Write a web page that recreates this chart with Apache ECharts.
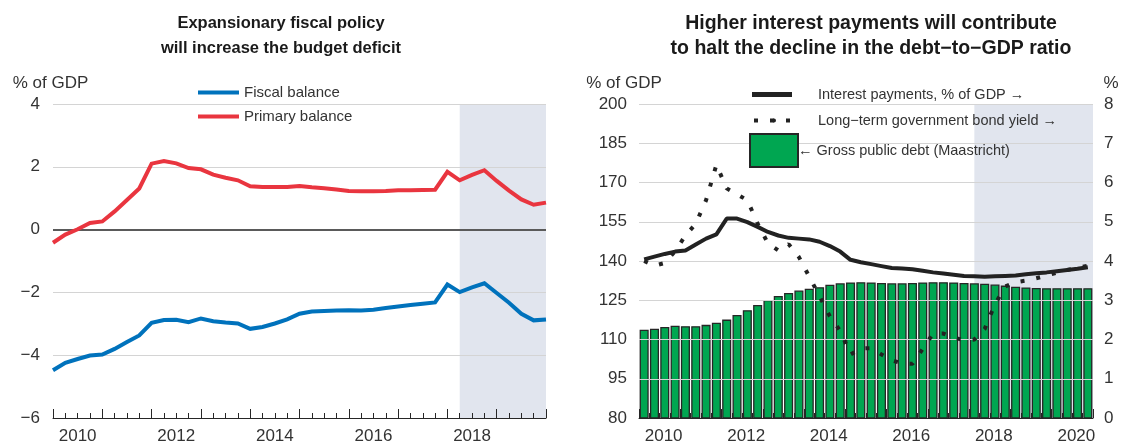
<!DOCTYPE html>
<html><head><meta charset="utf-8">
<script src="https://cdn.jsdelivr.net/npm/echarts@6/dist/echarts.min.js"></script>
<style>html,body{margin:0;padding:0;background:#fff}#c{width:1124px;height:445px}</style>
</head><body><div id="c"></div><script>
// ---------- DATA ----------
// Left panel: quarterly points 2010Q1 .. 2020Q1
const leftQuarters = [];
for (let y = 2010; y <= 2020; y++) for (let q = 1; q <= 4; q++) if (leftQuarters.length < 41) leftQuarters.push(y + 'Q' + q);
const leftYears = ['2010','2011','2012','2013','2014','2015','2016','2017','2018','2019'];
const fiscalBalance = [-4.48,-4.24,-4.12,-4.01,-3.98,-3.80,-3.58,-3.37,-2.97,-2.88,-2.87,-2.95,-2.83,-2.92,-2.96,-2.99,-3.16,-3.10,-2.99,-2.86,-2.68,-2.61,-2.59,-2.58,-2.57,-2.58,-2.55,-2.50,-2.45,-2.40,-2.36,-2.32,-1.75,-1.99,-1.84,-1.71,-2.02,-2.33,-2.68,-2.89,-2.86];
const primaryBalance = [-0.42,-0.16,0.01,0.21,0.26,0.58,0.94,1.31,2.10,2.18,2.11,1.96,1.92,1.75,1.65,1.57,1.38,1.36,1.36,1.36,1.39,1.35,1.32,1.28,1.23,1.22,1.22,1.23,1.25,1.25,1.26,1.27,1.84,1.57,1.74,1.89,1.55,1.24,0.96,0.79,0.86];
const leftForecastStart = '2018Q2';
const leftTicks = [-6, 4, 2];   // min, max, interval

// Right panel: quarterly 2010Q1 .. 2020Q4
const rightQuarters = [];
for (let y = 2010; y <= 2020; y++) for (let q = 1; q <= 4; q++) rightQuarters.push(y + 'Q' + q);
const rightYears = ['2010','2011','2012','2013','2014','2015','2016','2017','2018','2019','2020'];
const grossDebt = [113.7,114.1,114.8,115.3,115.1,115.1,115.6,116.4,117.6,119.4,121.2,123.2,125.1,126.6,127.8,128.7,129.4,130.0,130.9,131.5,131.8,131.9,131.8,131.6,131.5,131.5,131.6,131.8,131.9,131.9,131.8,131.6,131.5,131.3,131.0,130.6,130.2,129.9,129.7,129.6,129.6,129.6,129.6,129.6];
const interestPayments = [4.04,4.11,4.18,4.24,4.27,4.42,4.57,4.68,5.08,5.08,4.99,4.87,4.74,4.65,4.59,4.57,4.55,4.49,4.38,4.24,4.03,3.97,3.92,3.87,3.82,3.81,3.79,3.75,3.71,3.68,3.65,3.62,3.61,3.60,3.61,3.62,3.63,3.66,3.69,3.71,3.74,3.77,3.80,3.84];
const bondYield = [4.0,3.88,3.95,4.25,4.65,4.95,5.55,6.45,5.85,5.7,5.55,4.95,4.45,4.27,4.43,4.1,3.6,3.1,2.59,2.22,1.62,1.77,1.78,1.62,1.47,1.39,1.38,1.76,2.15,2.15,2.05,1.98,2.0,2.27,2.9,3.35,3.46,3.5,3.56,3.63,3.7,3.77,3.83,3.88];
const rightForecastStart = '2018Q1';
const debtTicks = [80, 200, 15];
const pctTicks = [0, 8, 1];

// ---------- STYLE ----------
const FONT = '"Liberation Sans", Arial, sans-serif';
const TXT = '#333';
const GRIDC = '#d4d4d4';
const BLUE = '#0072bc', RED = '#e9353f', GREEN = '#00a651', SHADE = '#e1e5ee', DARK = '#262626';
const minus = v => String(v).replace('-', '\u2212');

function tickValues(t, includeMin) {
  const out = [];
  for (let v = includeMin ? t[0] : t[0] + t[2]; v <= t[1] + 1e-9; v += t[2]) out.push(v);
  return out;
}

const chart = echarts.init(document.getElementById('c'), null, {renderer: 'canvas'});

function tickAxes(grid, cats, boundaryGap) {
  return [
    { type: 'category', gridIndex: grid, data: cats, boundaryGap: boundaryGap, position: 'bottom',
      axisLine: { show: true, onZero: false, lineStyle: { color: DARK, width: 1 } },
      axisTick: { show: true, inside: true, interval: 0, length: 5, lineStyle: { color: DARK } },
      axisLabel: { show: false }, splitLine: { show: false } },
    { type: 'category', gridIndex: grid, data: cats, boundaryGap: boundaryGap, position: 'bottom',
      axisLine: { show: false, onZero: false },
      axisTick: { show: true, inside: true, length: 9, interval: (i) => i % 4 === 0, lineStyle: { color: DARK } },
      axisLabel: { show: false }, splitLine: { show: false } }
  ];
}
function yearAxis(grid, years, pad) {
  return { type: 'category', gridIndex: grid, data: years, boundaryGap: true, position: 'bottom',
    axisLine: { show: false, onZero: false }, axisTick: { show: false },
    axisLabel: { interval: 1, margin: 10, fontSize: 17, color: TXT, fontFamily: FONT, padding: pad } };
}

const xAxes = [
  ...tickAxes(0, leftQuarters, false),            // 0,1
  yearAxis(0, leftYears, [0, 0, 0, 0]),           // 2
  ...tickAxes(1, rightQuarters, true),            // 3,4
  yearAxis(1, rightYears, [0, 0, 0, 8]),          // 5
  { type: 'value', gridIndex: 1, min: 0, max: rightQuarters.length, show: false } // 6 (shading)
];

const rStart = rightQuarters.indexOf(rightForecastStart) + 0.5;

const leftGridLines = tickValues(leftTicks, false).map(v => ({
  yAxis: v,
  lineStyle: v === 0 ? { color: '#5a5a5a', width: 2, type: 'solid' } : { color: GRIDC, width: 1, type: 'solid' }
}));
const rightGridLines = tickValues(debtTicks, false).map(v => ({ yAxis: v }));

const markLineBase = { silent: true, symbol: 'none', z: 3, label: { show: false }, emphasis: { disabled: true },
  animation: false, lineStyle: { color: GRIDC, width: 1, type: 'solid' } };

const option = {
  animation: false,
  textStyle: { fontFamily: FONT },
  title: [
    { text: 'Expansionary fiscal policy\nwill increase the budget deficit', left: 276, top: 6, textAlign: 'center',
      textStyle: { fontSize: 16.5, fontWeight: 'bold', color: '#1a1a1a', lineHeight: 25, fontFamily: FONT } },
    { text: 'Higher interest payments will contribute\nto halt the decline in the debt\u2212to\u2212GDP ratio', left: 866, top: 6, textAlign: 'center',
      textStyle: { fontSize: 19.5, fontWeight: 'bold', color: '#1a1a1a', lineHeight: 25, fontFamily: FONT } }
  ],
  legend: [
    { data: ['Fiscal balance', 'Primary balance'], orient: 'vertical', left: 198, top: 85, itemGap: 9, padding: 0,
      icon: 'rect', itemWidth: 41, itemHeight: 4,
      textStyle: { fontSize: 15, color: TXT, fontFamily: FONT } },
    { data: ['Interest payments, % of GDP \u2192'], left: 752, top: 87, padding: 0, icon: 'rect', itemWidth: 40, itemHeight: 5,
      textStyle: { fontSize: 14.5, color: TXT, fontFamily: FONT, padding: [0, 0, 0, 21] } },
    { data: ['Long\u2212term government bond yield \u2192'], left: 752, top: 113, padding: 0, itemWidth: 40, itemHeight: 5,
      lineStyle: { width: 4 },
      textStyle: { fontSize: 14.5, color: TXT, fontFamily: FONT, padding: [0, 0, 0, 19] } },
    { data: ['\u2190 Gross public debt (Maastricht)'], left: 749, top: 133, padding: 0, icon: 'rect', itemWidth: 48, itemHeight: 33,
      textStyle: { fontSize: 14.5, color: TXT, fontFamily: FONT, padding: [0, 0, 0, -5] } }
  ],
  grid: [
    { left: 53, top: 104, width: 493, height: 317 },
    { left: 639, top: 104, width: 454, height: 317 }
  ],
  xAxis: xAxes,
  yAxis: [
    { type: 'value', gridIndex: 0, min: leftTicks[0], max: leftTicks[1], interval: leftTicks[2],
      axisLine: { show: false }, axisTick: { show: false },
      splitLine: { lineStyle: { color: GRIDC, width: 1 } },
      axisLabel: { fontSize: 17, color: TXT, margin: 13, formatter: minus },
      name: '% of GDP', nameLocation: 'end', nameGap: 12,
      nameTextStyle: { fontSize: 17, color: TXT, align: 'center', padding: [0, 5, 0, 0] } },
    { type: 'value', gridIndex: 1, min: debtTicks[0], max: debtTicks[1], interval: debtTicks[2], position: 'left',
      axisLine: { show: false }, axisTick: { show: false },
      splitLine: { lineStyle: { color: GRIDC, width: 1 } },
      axisLabel: { fontSize: 17, color: TXT, margin: 12 },
      name: '% of GDP', nameLocation: 'end', nameGap: 12,
      nameTextStyle: { fontSize: 17, color: TXT, align: 'center', padding: [0, 30, 0, 0] } },
    { type: 'value', gridIndex: 1, min: pctTicks[0], max: pctTicks[1], interval: pctTicks[2], position: 'right',
      axisLine: { show: false }, axisTick: { show: false }, splitLine: { show: false },
      axisLabel: { fontSize: 17, color: TXT, margin: 11 },
      name: '%', nameLocation: 'end', nameGap: 12,
      nameTextStyle: { fontSize: 17, color: TXT, align: 'center', padding: [0, 0, 0, 36] } }
  ],
  series: [
    { name: 'shadeLeft', type: 'line', xAxisIndex: 0, yAxisIndex: 0, data: [], z: 0, silent: true,
      markArea: { silent: true, z: 0, itemStyle: { color: SHADE },
        data: [[{ xAxis: leftForecastStart }, { xAxis: leftQuarters[leftQuarters.length - 1] }]] } },
    { name: 'Fiscal balance', type: 'line', xAxisIndex: 0, yAxisIndex: 0, data: fiscalBalance, z: 6,
      symbol: 'none', itemStyle: { color: BLUE }, lineStyle: { color: BLUE, width: 4, join: 'miter' },
      markLine: Object.assign({}, markLineBase, { data: leftGridLines }) },
    { name: 'Primary balance', type: 'line', xAxisIndex: 0, yAxisIndex: 0, data: primaryBalance, z: 6,
      symbol: 'none', itemStyle: { color: RED }, lineStyle: { color: RED, width: 4, join: 'miter' } },

    { name: 'shadeRight', type: 'line', xAxisIndex: 6, yAxisIndex: 2, data: [], z: 0, silent: true,
      markArea: { silent: true, z: 0, itemStyle: { color: SHADE },
        data: [[{ xAxis: rStart }, { xAxis: rightQuarters.length }]] } },
    { name: '\u2190 Gross public debt (Maastricht)', type: 'bar', xAxisIndex: 3, yAxisIndex: 1, data: grossDebt, z: 2,
      barCategoryGap: '12%', itemStyle: { color: GREEN, borderColor: DARK, borderWidth: 1.3 },
      markLine: Object.assign({}, markLineBase, { data: rightGridLines }) },
    { name: 'Interest payments, % of GDP \u2192', type: 'line', xAxisIndex: 3, yAxisIndex: 2, data: interestPayments, z: 6,
      symbol: 'none', itemStyle: { color: '#222' }, lineStyle: { color: '#222', width: 4 } },
    { name: 'Long\u2212term government bond yield \u2192', type: 'line', xAxisIndex: 3, yAxisIndex: 2, data: bondYield, z: 6,
      symbol: 'none', itemStyle: { color: '#222' }, lineStyle: { color: '#222', width: 4, type: [4, 12], cap: 'butt' } }
  ]
};
chart.setOption(option);
</script></body></html>
